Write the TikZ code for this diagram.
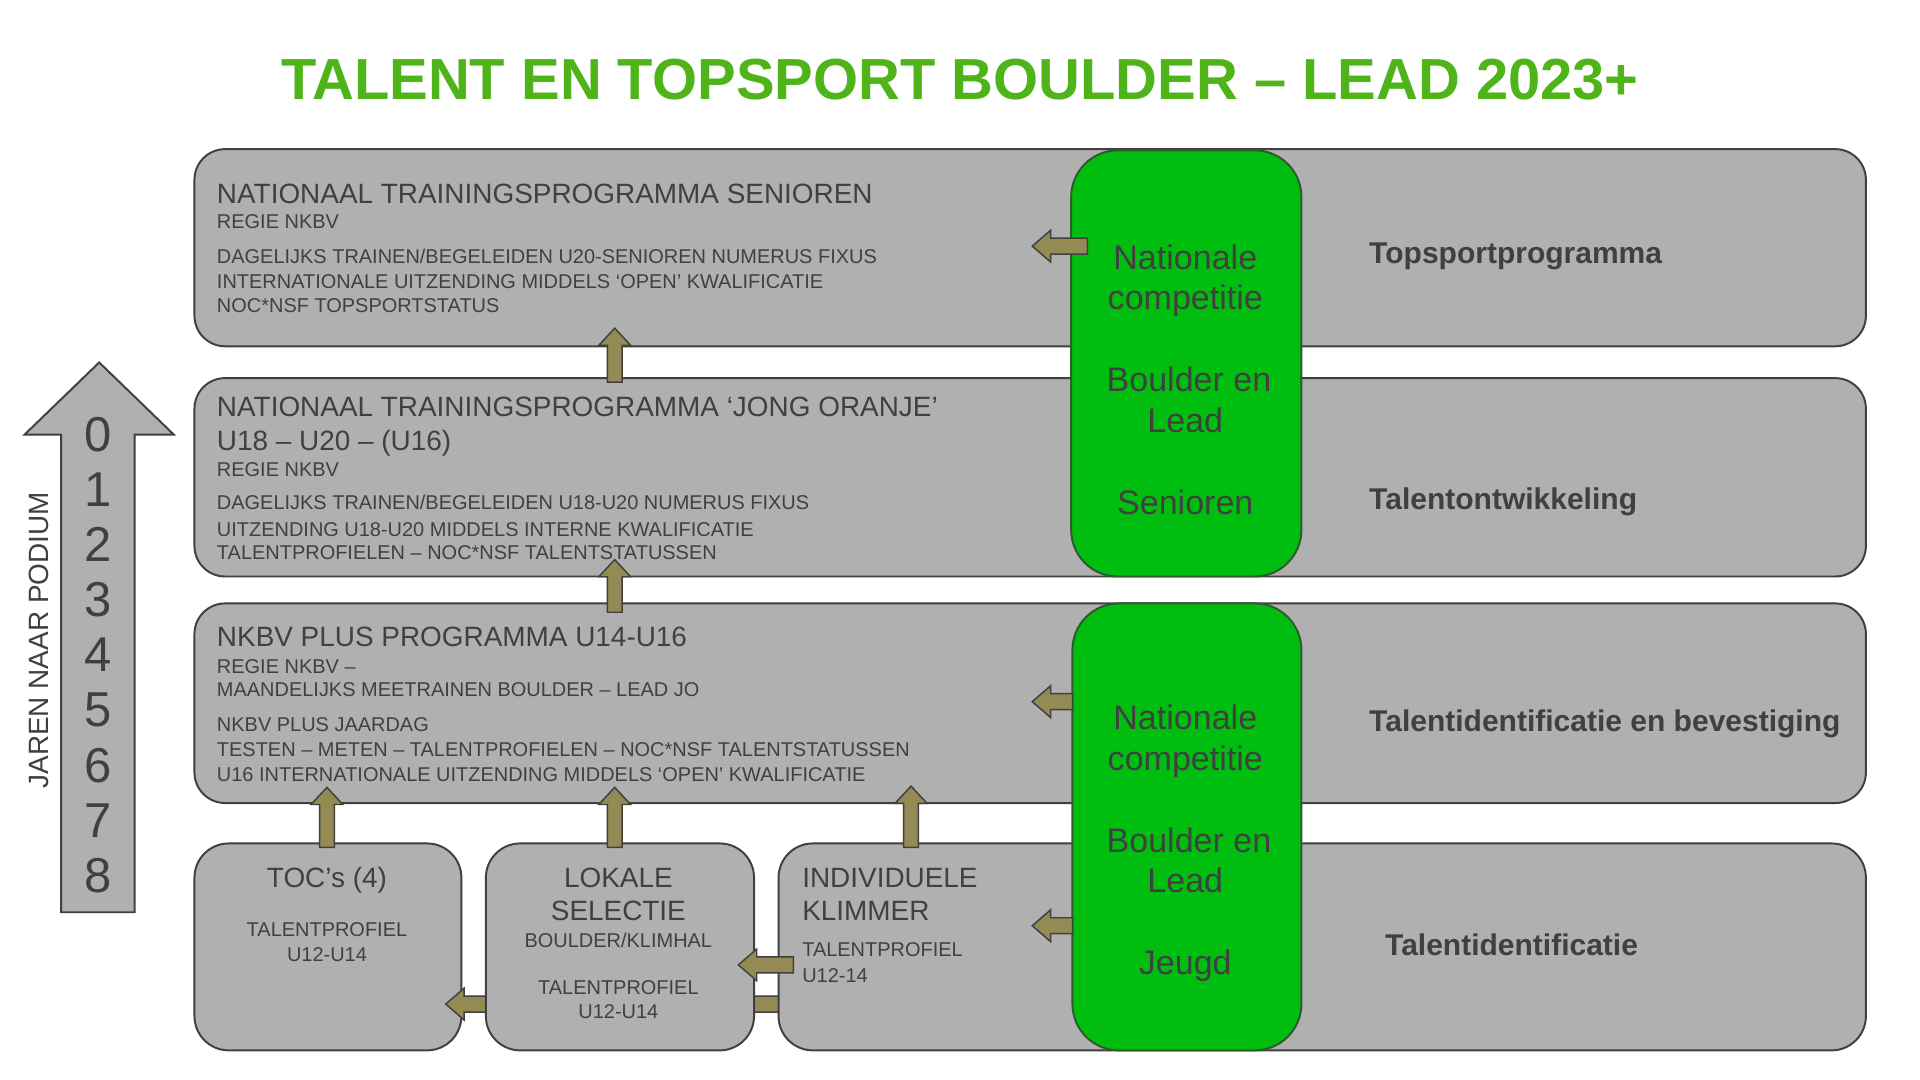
\documentclass[tikz,border=0pt]{standalone}
\usepackage{fontspec}
\setmainfont{Liberation Sans}
\usetikzlibrary{calc}
\definecolor{boxgray}{HTML}{B0B0B0}
\definecolor{edgegray}{HTML}{404040}
\definecolor{txtgray}{HTML}{404040}
\definecolor{greenbox}{HTML}{00BE10}
\definecolor{greenedge}{HTML}{2E5A2E}
\definecolor{olivearr}{HTML}{948A54}
\definecolor{titlegreen}{HTML}{4FB41A}
\newcommand\fTitle{\fontsize{47.3}{56}\bfseries\selectfont}
\newcommand\fBig{\fontsize{22.8}{27.4}\selectfont}
\newcommand\fSmall{\fontsize{16.3}{19.6}\selectfont}
\newcommand\fGreen{\fontsize{27.8}{33}\selectfont}
\newcommand\fLabel{\fontsize{24.5}{29.4}\bfseries\selectfont}
\newcommand\fNum{\fontsize{40}{45}\selectfont}
\newcommand\fSide{\fontsize{22.8}{27}\selectfont}
\tikzset{
  rowbox/.style={draw=edgegray, fill=boxgray, line width=1.6pt, rounded corners=25pt, rectangle, inner sep=0pt, anchor=north west},
  greenbox/.style={draw=greenedge, fill=greenbox, line width=1.6pt, rounded corners=38pt, rectangle, inner sep=0pt, anchor=north west},
  arrowsty/.style={draw=edgegray, fill=olivearr, line width=1.2pt, line join=miter},
  txt/.style={text=txtgray, inner sep=0pt, anchor=base west},
  ctxt/.style={text=txtgray, inner sep=0pt, anchor=base},
}
\newcommand\UpArr[2]{\path[arrowsty] let \p1=(#1), \p2=(#2) in
  (\x2,\y2) -- (\x2+13pt,\y2-14pt) -- (\x2+6pt,\y2-14pt) -- (\x2+6pt,\y1) -- (\x2-6pt,\y1) -- (\x2-6pt,\y2-14pt) -- (\x2-13pt,\y2-14pt) -- cycle;}
\newcommand\LeftArr[2]{\path[arrowsty] let \p1=(#1), \p2=(#2) in
  (\x2,\y2) -- (\x2+15pt,\y2+13pt) -- (\x2+15pt,\y2+6.5pt) -- (\x1,\y2+6.5pt) -- (\x1,\y2-6.5pt) -- (\x2+15pt,\y2-6.5pt) -- (\x2+15pt,\y2-13pt) -- cycle;}
\begin{document}
\begin{tikzpicture}[x=1pt,y=-1pt]
\useasboundingbox[fill=white] (0,0) rectangle (1568,882);

% title
\node[text=titlegreen, inner sep=0pt, anchor=base, font=\fTitle] (title) at (784,81) {TALENT EN TOPSPORT BOULDER – LEAD 2023+};

% left big arrow
\coordinate (bigtip) at (81,296);
\path[draw=edgegray, fill=boxgray, line width=1.6pt, line join=miter]
  (bigtip) -- (142,355) -- (110,355) -- (110,745) -- (50,745) -- (50,355) -- (20,355) -- cycle;
\foreach \n [count=\i from 0] in {0,...,8} {
  \node[text=txtgray, inner sep=0pt, font=\fNum] (num\n) at (80,355+45*\i) {\n};
}
\node[text=txtgray, inner sep=0pt, rotate=90, font=\fSide] (jaren) at (32,523) {JAREN NAAR PODIUM};

% rows
\node[rowbox, minimum width=1365pt, minimum height=161pt] (r1) at (158,121) {};
\node[rowbox, minimum width=1365pt, minimum height=162pt] (r2) at (158,308) {};
\node[rowbox, minimum width=1365pt, minimum height=163pt] (r3) at (158,492) {};
\node[rowbox, minimum width=218pt, minimum height=169pt, rounded corners=28pt] (toc) at (158,688) {};

% arrow passing behind the boxes (Individuele -> TOC), above TOC
\coordinate (bk1) at (650,820);
\coordinate (bk2) at (364,820);
\LeftArr{bk1}{bk2}

\node[rowbox, minimum width=219pt, minimum height=169pt, rounded corners=28pt] (lok) at (396,688) {};
\node[rowbox, minimum width=888pt, minimum height=169pt, rounded corners=28pt] (ind) at (635,688) {};

% green boxes
\node[greenbox, minimum width=188pt, minimum height=348pt] (g1) at (874,122) {};
\node[greenbox, minimum width=187pt, minimum height=365pt] (g2) at (875,492) {};

% row 1 text
\node[txt, font=\fBig] (r1a) at (177,166) {NATIONAAL TRAININGSPROGRAMMA SENIOREN};
\node[txt, font=\fSmall] (r1b) at (177,187) {REGIE NKBV};
\node[txt, font=\fSmall] (r1c) at (177,215) {DAGELIJKS TRAINEN/BEGELEIDEN U20-SENIOREN NUMERUS FIXUS};
\node[txt, font=\fSmall] (r1d) at (177,236) {INTERNATIONALE UITZENDING MIDDELS ‘OPEN’ KWALIFICATIE};
\node[txt, font=\fSmall] (r1e) at (177,255) {NOC*NSF TOPSPORTSTATUS};

% row 2 text
\node[txt, font=\fBig] (r2a) at (177,340) {NATIONAAL TRAININGSPROGRAMMA ‘JONG ORANJE’};
\node[txt, font=\fBig] (r2b) at (177,368) {U18 – U20 – (U16)};
\node[txt, font=\fSmall] (r2c) at (177,389) {REGIE NKBV};
\node[txt, font=\fSmall] (r2d) at (177,416) {DAGELIJKS TRAINEN/BEGELEIDEN U18-U20 NUMERUS FIXUS};
\node[txt, font=\fSmall] (r2e) at (177,438) {UITZENDING U18-U20 MIDDELS INTERNE KWALIFICATIE};
\node[txt, font=\fSmall] (r2f) at (177,457) {TALENTPROFIELEN – NOC*NSF TALENTSTATUSSEN};

% row 3 text
\node[txt, font=\fBig] (r3a) at (177,528) {NKBV PLUS PROGRAMMA U14-U16};
\node[txt, font=\fSmall] (r3b) at (177,550) {REGIE NKBV –};
\node[txt, font=\fSmall] (r3c) at (177,569) {MAANDELIJKS MEETRAINEN BOULDER – LEAD JO};
\node[txt, font=\fSmall] (r3d) at (177,597) {NKBV PLUS JAARDAG};
\node[txt, font=\fSmall] (r3e) at (177,618) {TESTEN – METEN – TALENTPROFIELEN – NOC*NSF TALENTSTATUSSEN};
\node[txt, font=\fSmall] (r3f) at (177,638) {U16 INTERNATIONALE UITZENDING MIDDELS ‘OPEN’ KWALIFICATIE};

% row 4 texts
\node[ctxt, font=\fBig] (t1) at (267,725) {TOC’s (4)};
\node[ctxt, font=\fSmall] (t2) at (267,765) {TALENTPROFIEL};
\node[ctxt, font=\fSmall] (t3) at (267,785) {U12-U14};
\node[ctxt, font=\fBig] (l1) at (505,725) {LOKALE};
\node[ctxt, font=\fBig] (l2) at (505,752) {SELECTIE};
\node[ctxt, font=\fSmall] (l3) at (505,774) {BOULDER/KLIMHAL};
\node[ctxt, font=\fSmall] (l4) at (505,812) {TALENTPROFIEL};
\node[ctxt, font=\fSmall] (l5) at (505,832) {U12-U14};
\node[txt, font=\fBig] (i1) at (655,725) {INDIVIDUELE};
\node[txt, font=\fBig] (i2) at (655,752) {KLIMMER};
\node[txt, font=\fSmall] (i3) at (655,781) {TALENTPROFIEL};
\node[txt, font=\fSmall] (i4) at (655,802) {U12-14};

% green texts
\node[ctxt, font=\fGreen] (ga1) at (968,220) {Nationale};
\node[ctxt, font=\fGreen] (ga2) at (968,253) {competitie};
\node[ctxt, font=\fGreen] (ga3) at (971,320) {Boulder en};
\node[ctxt, font=\fGreen] (ga4) at (968,353) {Lead};
\node[ctxt, font=\fGreen] (ga5) at (968,420) {Senioren};
\node[ctxt, font=\fGreen] (gb1) at (968,596) {Nationale};
\node[ctxt, font=\fGreen] (gb2) at (968,629) {competitie};
\node[ctxt, font=\fGreen] (gb3) at (971,696) {Boulder en};
\node[ctxt, font=\fGreen] (gb4) at (968,729) {Lead};
\node[ctxt, font=\fGreen] (gb5) at (968,796) {Jeugd};

% right labels
\node[txt, font=\fLabel] (lab1) at (1118,215) {Topsportprogramma};
\node[txt, font=\fLabel] (lab2) at (1118,416) {Talentontwikkeling};
\node[txt, font=\fLabel] (lab3) at (1118,597) {Talentidentificatie en bevestiging};
\node[txt, font=\fLabel] (lab4) at (1131,780) {Talentidentificatie};

% up arrows
\coordinate (u1b) at (502,312); \coordinate (u1t) at (502,268);
\coordinate (u2b) at (502,500); \coordinate (u2t) at (502,457);
\coordinate (u3b) at (267,692); \coordinate (u3t) at (267,643);
\coordinate (u4b) at (502,692); \coordinate (u4t) at (502,643);
\coordinate (u5b) at (744,692); \coordinate (u5t) at (744,642);
\UpArr{u1b}{u1t}
\UpArr{u2b}{u2t}
\UpArr{u3b}{u3t}
\UpArr{u4b}{u4t}
\UpArr{u5b}{u5t}

% left arrows
\coordinate (la1) at (888,201); \coordinate (la1t) at (843,201);
\coordinate (la2) at (876,573); \coordinate (la2t) at (843,573);
\coordinate (la3) at (876,756); \coordinate (la3t) at (843,756);
\coordinate (la4) at (648,788); \coordinate (la4t) at (603,788);
\LeftArr{la1}{la1t}
\LeftArr{la2}{la2t}
\LeftArr{la3}{la3t}
\LeftArr{la4}{la4t}
\end{tikzpicture}
\end{document}
